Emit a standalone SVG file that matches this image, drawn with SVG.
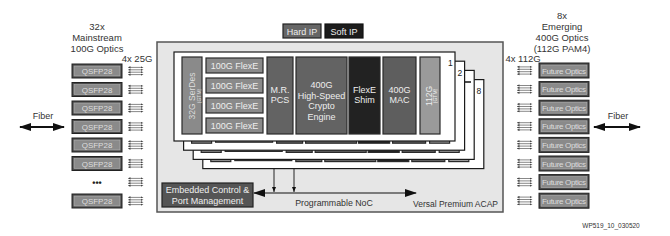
<svg xmlns="http://www.w3.org/2000/svg" xmlns:xlink="http://www.w3.org/1999/xlink" width="670" height="236" viewBox="0 0 670 236">
<style>
text{font-family:"Liberation Sans",Arial,sans-serif}
.lbl{font-size:9.5px;fill:#333;text-anchor:middle}
.wt{font-size:9px;fill:#eee;text-anchor:middle}
.sm{font-size:8px;fill:#ddd;text-anchor:middle}
.box{stroke:#2a2a2a;stroke-width:1.2}
.optO{fill:#4a4a4a;stroke:#222;stroke-width:1}
.optI{fill:#8a8a8a;stroke:#b5b5b5;stroke-width:0.6}
.layer{fill:#fff;stroke:#1a1a1a;stroke-width:1.2}
.lane{stroke:#555;stroke-width:0.7;marker-start:url(#la);marker-end:url(#la)}
.conn{stroke:#111;fill:none}
</style>
<defs>
<marker id="la" viewBox="0 0 4 4" refX="2" refY="2" markerWidth="3" markerHeight="3" markerUnits="userSpaceOnUse" orient="auto-start-reverse"><path d="M0,0.6 L4,2 L0,3.4 z" fill="#444"/></marker>
<marker id="big" viewBox="0 0 12 8" refX="11" refY="4" markerWidth="12" markerHeight="8" markerUnits="userSpaceOnUse" orient="auto-start-reverse"><path d="M0,0 L12,4 L0,8 z" fill="#111"/></marker>
<marker id="sm" viewBox="0 0 5 4" refX="5" refY="2" markerWidth="5" markerHeight="4" markerUnits="userSpaceOnUse" orient="auto"><path d="M0,0 L5,2 L0,4 z" fill="#111"/></marker>
<g id="lanes">
<line class="lane" x1="1" y1="-3.6" x2="14" y2="-3.6"/>
<line class="lane" x1="1" y1="-1.2" x2="14" y2="-1.2"/>
<line class="lane" x1="1" y1="1.2" x2="14" y2="1.2"/>
<line class="lane" x1="1" y1="3.6" x2="14" y2="3.6"/>
</g>
<g id="layerShape">
<rect class="layer" x="0" y="0" width="281" height="89"/>
<rect class="box" x="8" y="5" width="20" height="77" fill="#8a8a8a"/>
<rect class="box" x="32" y="6" width="57" height="15" fill="#8a8a8a"/>
<rect class="box" x="32" y="26" width="57" height="15" fill="#8a8a8a"/>
<rect class="box" x="32" y="46" width="57" height="15" fill="#8a8a8a"/>
<rect class="box" x="32" y="66" width="57" height="15" fill="#8a8a8a"/>
<rect class="box" x="93" y="5" width="26" height="77" fill="#636363"/>
<rect class="box" x="122" y="5" width="51" height="77" fill="#636363"/>
<rect class="box" x="175" y="5" width="31" height="77" fill="#222"/>
<rect class="box" x="209" y="5" width="33" height="77" fill="#5e5e5e"/>
<rect class="box" x="246" y="5" width="20" height="77" fill="#9a9a9a"/>
</g>
</defs>

<!-- Left side optics -->
<g id="left-title">
<text class="lbl" x="97" y="30">32x</text>
<text class="lbl" x="97" y="41">Mainstream</text>
<text class="lbl" x="97" y="52">100G Optics</text>
<text class="lbl" x="137" y="62">4x 25G</text>
</g>
<g id="qsfp-1"><rect class="optO" x="72" y="64" width="50" height="14"/><rect class="optI" x="74" y="66" width="46" height="10"/><text class="sm" x="97" y="74">QSFP28</text></g>
<g id="qsfp-2"><rect class="optO" x="72" y="82.5" width="50" height="14"/><rect class="optI" x="74" y="84.5" width="46" height="10"/><text class="sm" x="97" y="92.5">QSFP28</text></g>
<g id="qsfp-3"><rect class="optO" x="72" y="101" width="50" height="14"/><rect class="optI" x="74" y="103" width="46" height="10"/><text class="sm" x="97" y="111">QSFP28</text></g>
<g id="qsfp-4"><rect class="optO" x="72" y="119.5" width="50" height="14"/><rect class="optI" x="74" y="121.5" width="46" height="10"/><text class="sm" x="97" y="129.5">QSFP28</text></g>
<g id="qsfp-5"><rect class="optO" x="72" y="138" width="50" height="14"/><rect class="optI" x="74" y="140" width="46" height="10"/><text class="sm" x="97" y="148">QSFP28</text></g>
<g id="qsfp-6"><rect class="optO" x="72" y="156.5" width="50" height="14"/><rect class="optI" x="74" y="158.5" width="46" height="10"/><text class="sm" x="97" y="166.5">QSFP28</text></g>
<g id="qsfp-dots"><text x="97" y="186" font-size="9" fill="#222" text-anchor="middle" font-weight="bold">•••</text></g>
<g id="qsfp-8"><rect class="optO" x="72" y="194" width="50" height="14"/><rect class="optI" x="74" y="196" width="46" height="10"/><text class="sm" x="97" y="204">QSFP28</text></g>
<g id="left-lanes">
<use href="#lanes" x="128" y="71"/><use href="#lanes" x="128" y="89.5"/><use href="#lanes" x="128" y="108"/><use href="#lanes" x="128" y="126.5"/>
<use href="#lanes" x="128" y="145"/><use href="#lanes" x="128" y="163.5"/><use href="#lanes" x="128" y="182"/><use href="#lanes" x="128" y="201"/>
</g>

<!-- Right side optics -->
<g id="right-title">
<text class="lbl" x="562" y="19">8x</text>
<text class="lbl" x="562" y="30">Emerging</text>
<text class="lbl" x="562" y="41">400G Optics</text>
<text class="lbl" x="562" y="52">(112G PAM4)</text>
<text class="lbl" x="523" y="62">4x 112G</text>
</g>
<g id="fo-1"><rect class="optO" x="539" y="63" width="50" height="15"/><rect class="optI" x="541" y="65" width="46" height="11"/><text class="sm" x="564" y="73.5" font-size="7.6" textLength="44">Future Optics</text></g>
<g id="fo-2"><rect class="optO" x="539" y="81.6" width="50" height="15"/><rect class="optI" x="541" y="83.6" width="46" height="11"/><text class="sm" x="564" y="92.1" font-size="7.6" textLength="44">Future Optics</text></g>
<g id="fo-3"><rect class="optO" x="539" y="100.2" width="50" height="15"/><rect class="optI" x="541" y="102.2" width="46" height="11"/><text class="sm" x="564" y="110.7" font-size="7.6" textLength="44">Future Optics</text></g>
<g id="fo-4"><rect class="optO" x="539" y="118.8" width="50" height="15"/><rect class="optI" x="541" y="120.8" width="46" height="11"/><text class="sm" x="564" y="129.3" font-size="7.6" textLength="44">Future Optics</text></g>
<g id="fo-5"><rect class="optO" x="539" y="137.4" width="50" height="15"/><rect class="optI" x="541" y="139.4" width="46" height="11"/><text class="sm" x="564" y="147.9" font-size="7.6" textLength="44">Future Optics</text></g>
<g id="fo-6"><rect class="optO" x="539" y="156" width="50" height="15"/><rect class="optI" x="541" y="158" width="46" height="11"/><text class="sm" x="564" y="166.5" font-size="7.6" textLength="44">Future Optics</text></g>
<g id="fo-7"><rect class="optO" x="539" y="174.6" width="50" height="15"/><rect class="optI" x="541" y="176.6" width="46" height="11"/><text class="sm" x="564" y="185.1" font-size="7.6" textLength="44">Future Optics</text></g>
<g id="fo-8"><rect class="optO" x="539" y="193.2" width="50" height="15"/><rect class="optI" x="541" y="195.2" width="46" height="11"/><text class="sm" x="564" y="203.7" font-size="7.6" textLength="44">Future Optics</text></g>
<g id="right-lanes">
<use href="#lanes" x="517" y="70.5"/><use href="#lanes" x="517" y="89.1"/><use href="#lanes" x="517" y="107.7"/><use href="#lanes" x="517" y="126.3"/>
<use href="#lanes" x="517" y="144.9"/><use href="#lanes" x="517" y="163.5"/><use href="#lanes" x="517" y="182.1"/><use href="#lanes" x="517" y="200.7"/>
</g>

<!-- Legend -->
<g id="legend-hard"><rect x="283" y="24" width="38" height="14" fill="#666" stroke="#222" stroke-width="1.2"/><text class="wt" x="302" y="34.5">Hard IP</text></g>
<g id="legend-soft"><rect x="325" y="24" width="38" height="14" fill="#1c1c1c" stroke="#111" stroke-width="1.2"/><text class="wt" x="344" y="34.5">Soft IP</text></g>

<!-- ACAP -->
<g id="acap">
<rect x="157" y="42" width="346" height="170" fill="#e6e6e6" stroke="#555" stroke-width="1.5"/>
<text x="498" y="207" font-size="8.5" fill="#333" text-anchor="end">Versal Premium ACAP</text>
</g>

<g id="layer-8"><use href="#layerShape" x="202.8" y="79.6"/></g>
<g id="layer-3"><use href="#layerShape" x="193.2" y="70.4"/></g>
<g id="layer-2"><use href="#layerShape" x="183.6" y="61.2"/></g>
<g id="layer-1">
<use href="#layerShape" x="174" y="52"/>
<g id="serdes"><text x="0" y="0" transform="translate(195,96) rotate(-90)" font-size="8.5" fill="#ddd" text-anchor="middle">32G SerDes</text><text x="0" y="0" transform="translate(200.5,96) rotate(-90)" font-size="5" fill="#ddd" text-anchor="middle">(GTM)</text></g>
<g id="flexe-1"><text class="wt" x="234.5" y="68.5">100G FlexE</text></g>
<g id="flexe-2"><text class="wt" x="234.5" y="88.5">100G FlexE</text></g>
<g id="flexe-3"><text class="wt" x="234.5" y="108.5">100G FlexE</text></g>
<g id="flexe-4"><text class="wt" x="234.5" y="128.5">100G FlexE</text></g>
<g id="mrpcs"><text class="wt" x="280" y="93">M.R.</text><text class="wt" x="280" y="103">PCS</text></g>
<g id="crypto"><text class="wt" x="321.5" y="88">400G</text><text class="wt" x="321.5" y="98.5">High-Speed</text><text class="wt" x="321.5" y="109">Crypto</text><text class="wt" x="321.5" y="119.5">Engine</text></g>
<g id="shim"><text class="wt" x="364.5" y="93">FlexE</text><text class="wt" x="364.5" y="103">Shim</text></g>
<g id="mac"><text class="wt" x="399.5" y="93">400G</text><text class="wt" x="399.5" y="103">MAC</text></g>
<g id="gtm112"><text x="0" y="0" transform="translate(432,96) rotate(-90)" font-size="8.5" fill="#eee" text-anchor="middle">112G</text><text x="0" y="0" transform="translate(437,96) rotate(-90)" font-size="5" fill="#eee" text-anchor="middle">(GTM)</text></g>
</g>
<g id="layer-labels">
<text x="448" y="66" font-size="8.5" fill="#222">1</text>
<text x="457.5" y="75.5" font-size="8.5" fill="#222">2</text>
<line x1="465" y1="82" x2="471" y2="82" stroke="#111" stroke-width="1.5"/>
<text x="476.5" y="94" font-size="8.5" fill="#222">8</text>
</g>

<g id="embedded"><rect x="162" y="183" width="91" height="24" fill="#555" stroke="#222" stroke-width="1.2"/><text class="wt" x="207.5" y="193">Embedded Control &amp;</text><text class="wt" x="207.5" y="203.5">Port Management</text></g>

<g id="connectors">
<line class="conn" x1="254" y1="193" x2="416" y2="193" stroke-width="1.2" marker-start="url(#big)" marker-end="url(#big)"/>
<line class="conn" x1="274" y1="169" x2="274" y2="192" stroke-width="0.9" marker-end="url(#sm)"/>
<line class="conn" x1="294" y1="169" x2="294" y2="192" stroke-width="0.9" marker-end="url(#sm)"/>
<line class="conn" x1="20" y1="127" x2="64" y2="127" stroke-width="2" marker-start="url(#big)" marker-end="url(#big)"/>
<line class="conn" x1="594" y1="127" x2="640" y2="127" stroke-width="2" marker-start="url(#big)" marker-end="url(#big)"/>
</g>
<g id="conn-labels">
<text x="334" y="205.5" font-size="8.8" fill="#333" text-anchor="middle">Programmable NoC</text>
<text x="43" y="119" font-size="9" fill="#333" text-anchor="middle">Fiber</text>
<text x="618" y="119" font-size="9" fill="#333" text-anchor="middle">Fiber</text>
</g>
<text x="611" y="228" font-size="6.5" fill="#333" text-anchor="middle">WP519_10_030520</text>
</svg>
